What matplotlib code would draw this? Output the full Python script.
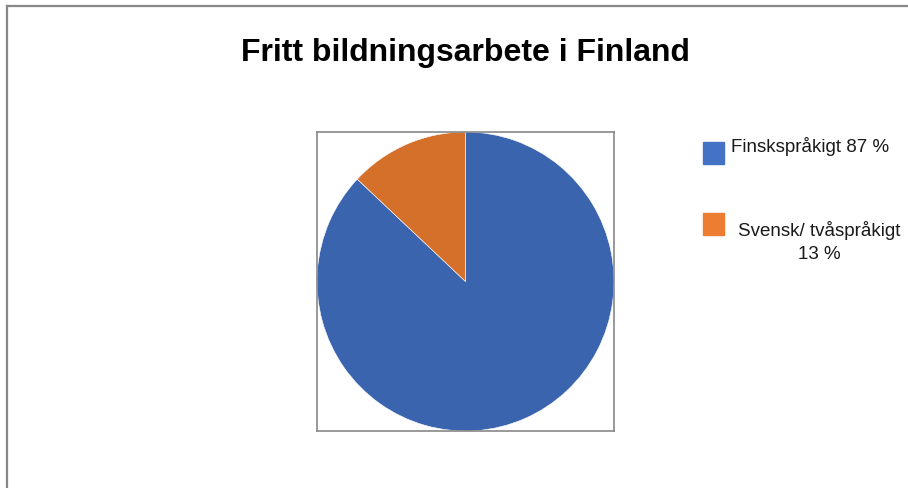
import matplotlib
matplotlib.use('Agg')
import matplotlib.pyplot as plt
from matplotlib.patches import Rectangle
from matplotlib.lines import Line2D

plt.rcParams['font.family'] = ['Liberation Sans', 'DejaVu Sans']

title = 'Fritt bildningsarbete i Finland'
labels = ['Finskspråkigt 87 %', 'Svensk/ tvåspråkigt\n13 %']
shares = [87, 13]
pie_colors = ['#3A64AD', '#D4702A']
legend_colors = ['#4472C4', '#ED7D31']

W, H = 908, 489
fig = plt.figure(figsize=(W / 100, H / 100), dpi=100)

# outer frame (only left and top visible)
fig.add_artist(Line2D([7 / W, 7 / W], [0, 1 - 7 / H], color='#888888', lw=1.6))
fig.add_artist(Line2D([7 / W, 1], [1 - 7 / H, 1 - 7 / H], color='#888888', lw=1.6))

fig.text(465 / W, 1 - 53 / H, title, ha='center', va='center',
         fontsize=23, fontweight='bold')

ax = fig.add_axes([317 / W, 1 - 432 / H, 297 / W, 299 / H])
ax.pie(shares, colors=pie_colors, startangle=90, counterclock=False,
       radius=1, wedgeprops=dict(edgecolor='white', linewidth=0.4))
ax.set_xlim(-1, 1)
ax.set_ylim(-1, 1)
ax.set_aspect('auto')
ax.set_xticks([])
ax.set_yticks([])
ax.set_frame_on(True)
for s in ax.spines.values():
    s.set_color('#888888')
    s.set_linewidth(1.2)

# legend drawn by hand
rows = [(143, 731, 'left', 146), (214, 819, 'center', 242)]
for (top, tx, ha, ty), lab, col in zip(rows, labels, legend_colors):
    fig.add_artist(Rectangle((703 / W, 1 - (top + 22) / H), 21 / W, 22 / H,
                             transform=fig.transFigure, color=col))
    fig.text(tx / W, 1 - ty / H, lab, ha=ha, va='center', color='#1a1a1a',
             fontsize=13.5, multialignment='center', linespacing=1.45)

fig.savefig('out.png', dpi=100)
